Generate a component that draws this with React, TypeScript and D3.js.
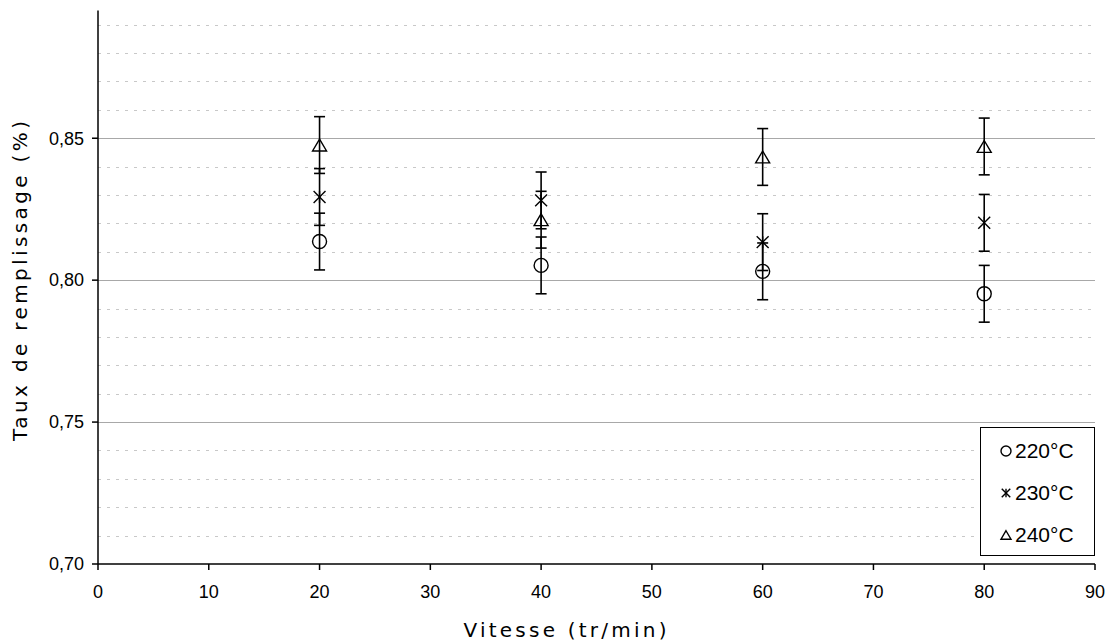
import React from "react";
import * as d3 from "d3";

const speeds = [20, 40, 60, 80];
const series220 = [0.8136, 0.8052, 0.8031, 0.7952];
const series230 = [0.8293, 0.8281, 0.8134, 0.8202];
const series240 = [0.8476, 0.8213, 0.8434, 0.8471];
const errorBar = 0.01;
const seriesNames = ["220°C", "230°C", "240°C"];
const xTicks = [0, 10, 20, 30, 40, 50, 60, 70, 80, 90];
const yMajor = [0.7, 0.75, 0.8, 0.85];
const yMinor = [0.71, 0.72, 0.73, 0.74, 0.76, 0.77, 0.78, 0.79, 0.81, 0.82, 0.83, 0.84, 0.86, 0.87, 0.88, 0.89];

const W = 1110, H = 642;
const left = 98, right = 1095, top = 10.5, bottom = 564;

function Marker({ kind, cx, cy, s }: { kind: number; cx: number; cy: number; s: number }) {
  if (kind === 0) return <circle cx={cx} cy={cy} r={s} fill="none" stroke="#000" strokeWidth={1.4} />;
  if (kind === 1) {
    const d = s * 0.85;
    return (
      <g stroke="#000" strokeWidth={1.4}>
        <line x1={cx - d} y1={cy - d} x2={cx + d} y2={cy + d} />
        <line x1={cx - d} y1={cy + d} x2={cx + d} y2={cy - d} />
        <line x1={cx} y1={cy - d} x2={cx} y2={cy + d} />
      </g>
    );
  }
  const h = s * 1.7;
  const p = `M${cx},${cy - h / 2} L${cx + s},${cy + h / 2} L${cx - s},${cy + h / 2} Z`;
  return <path d={p} fill="none" stroke="#000" strokeWidth={1.4} />;
}

export default function App() {
  const x = d3.scaleLinear().domain([0, 90]).range([left, right]);
  const y = d3.scaleLinear().domain([0.7, 0.895]).range([bottom, top]);
  const all = [series220, series230, series240];
  const fmt = (v: number) => v.toFixed(2).replace(".", ",");
  const font = "'Liberation Sans', Arial, sans-serif";
  const titleFont = "'DejaVu Sans', Verdana, sans-serif";

  return (
    <svg width={W} height={H} style={{ position: "absolute", left: 0, top: 0, background: "#fff" }}>
      <rect width={W} height={H} fill="#fff" />
      {yMinor.map((v) => (
        <line key={"m" + v} x1={left} x2={right} y1={Math.round(y(v)) + 0.5} y2={Math.round(y(v)) + 0.5}
          stroke="#c8c8c8" strokeWidth={1} strokeDasharray="3,6" />
      ))}
      {yMajor.slice(1).map((v) => (
        <line key={"g" + v} x1={left} x2={right} y1={Math.round(y(v)) + 0.5} y2={Math.round(y(v)) + 0.5}
          stroke="#a8a8a8" strokeWidth={1} />
      ))}
      {/* axes */}
      <line x1={left} x2={left} y1={top} y2={bottom} stroke="#000" strokeWidth={1.5} />
      <line x1={left} x2={right} y1={bottom} y2={bottom} stroke="#000" strokeWidth={1.5} />
      {yMajor.map((v) => (
        <g key={"yt" + v}>
          <line x1={left - 6} x2={left} y1={y(v)} y2={y(v)} stroke="#000" strokeWidth={1.5} />
          <text x={84} y={y(v)} dy="0.35em" textAnchor="end" fontFamily={font} fontSize={18} fill="#000">{fmt(v)}</text>
        </g>
      ))}
      {xTicks.map((v) => (
        <g key={"xt" + v}>
          <line x1={x(v)} x2={x(v)} y1={bottom} y2={bottom + 6} stroke="#000" strokeWidth={1.5} />
          <text x={x(v)} y={592} dy="0.35em" textAnchor="middle" fontFamily={font} fontSize={18} fill="#000">{v}</text>
        </g>
      ))}
      {/* titles */}
      <text x={565} y={637} textAnchor="middle" fontFamily={titleFont} fontSize={20} fill="#000"
        textLength={203} lengthAdjust="spacing">Vitesse (tr/min)</text>
      <text transform={`translate(27,281) rotate(-90)`} textAnchor="middle" fontFamily={titleFont} fontSize={20} fill="#000"
        textLength={320} lengthAdjust="spacing">Taux de remplissage (%)</text>
      {/* error bars and markers */}
      {all.map((ser, k) =>
        ser.map((v, i) => {
          const cx = x(speeds[i]);
          const y1 = y(v + errorBar), y2 = y(v - errorBar);
          return (
            <g key={`e${k}-${i}`} stroke="#000" strokeWidth={1.6}>
              <line x1={cx} x2={cx} y1={y1} y2={y2} />
              <line x1={cx - 5.5} x2={cx + 5.5} y1={y1} y2={y1} />
              <line x1={cx - 5.5} x2={cx + 5.5} y1={y2} y2={y2} />
            </g>
          );
        })
      )}
      {all.map((ser, k) =>
        ser.map((v, i) => <Marker key={`p${k}-${i}`} kind={k} cx={x(speeds[i])} cy={y(v)} s={7} />)
      )}
      {/* legend */}
      <rect x={980.5} y={427.5} width={114} height={128} fill="#fff" stroke="#000" strokeWidth={1} />
      {seriesNames.map((n, k) => {
        const ly = 451 + k * 42;
        return (
          <g key={"l" + n}>
            <Marker kind={k} cx={1006} cy={ly} s={5} />
            <text x={1015} y={ly} dy="0.35em" fontFamily={font} fontSize={21} fill="#000">{n}</text>
          </g>
        );
      })}
    </svg>
  );
}
